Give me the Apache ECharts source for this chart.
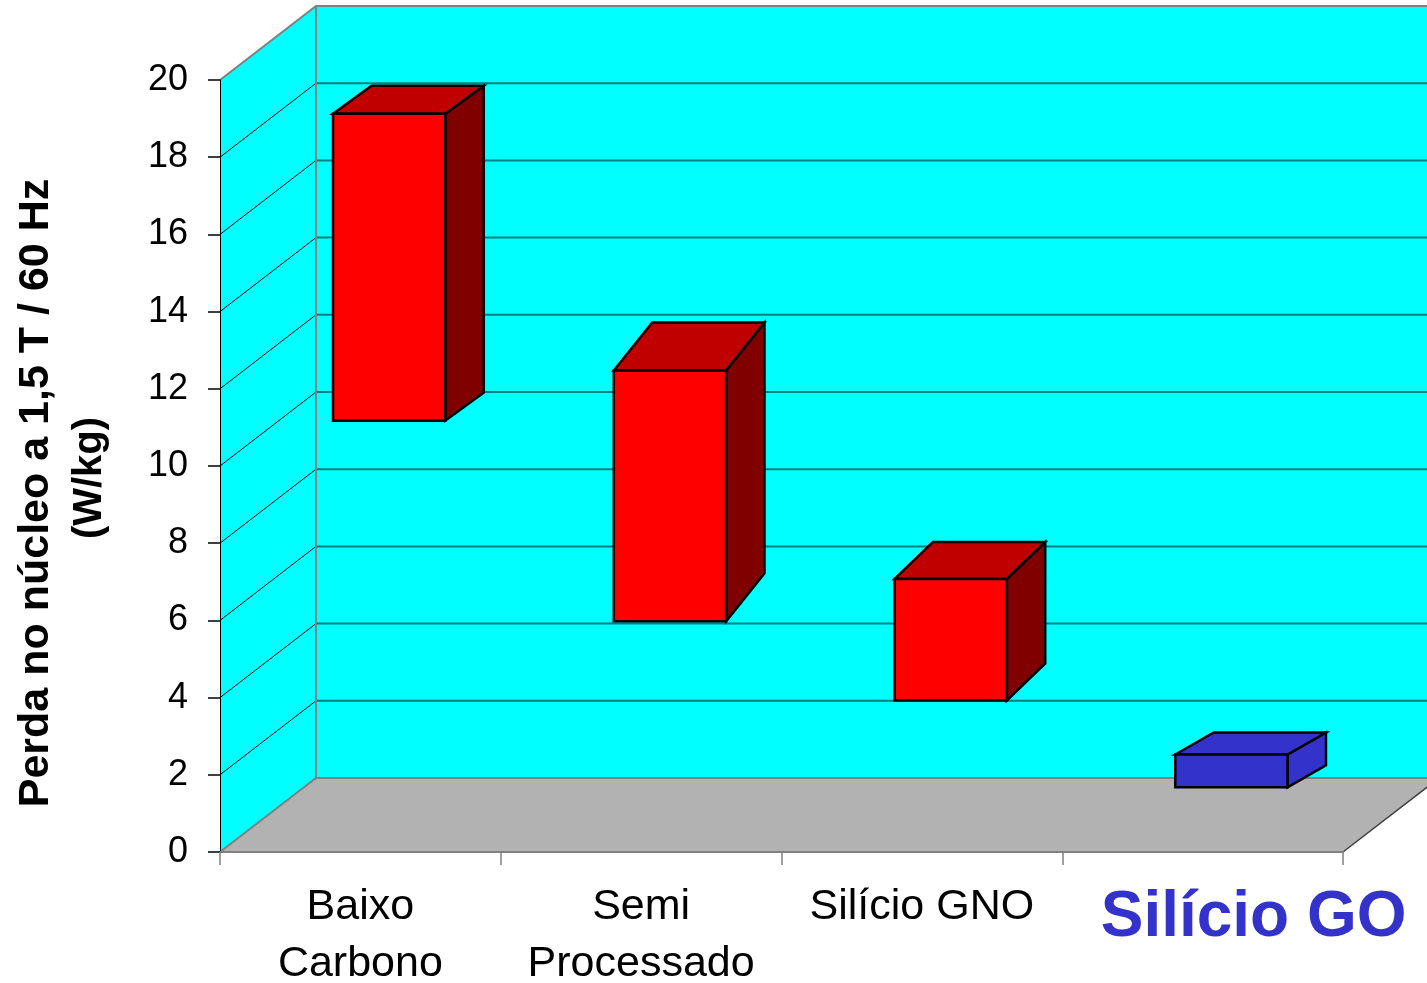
<!DOCTYPE html>
<html>
<head>
<meta charset="utf-8">
<title>Perda no núcleo</title>
<script src="https://cdn.jsdelivr.net/npm/echarts@6/dist/echarts.min.js"></script>
<style>
  html, body { margin: 0; padding: 0; background: #ffffff; }
  #chart { width: 1427px; height: 983px; }
</style>
</head>
<body>
<div id="chart"></div>
<script>
// ---- data ----
const categories = ['Baixo\nCarbono', 'Semi\nProcessado', 'Silício GNO', 'Silício GO'];
const lossLow = [10.6, 5.4, 3.35, 1.1];     // W/kg, lower end of each range
const lossHigh = [18.55, 11.9, 6.5, 1.95];  // W/kg, upper end of each range
const yTicks = [0, 2, 4, 6, 8, 10, 12, 14, 16, 18, 20];
const yTitle = 'Perda no núcleo a 1,5 T / 60 Hz';
const yUnit = '(W/kg)';

// ---- 3D look (pixels / fractions of the depth) ----
const DEPTH = { x: 96, y: 74 };   // oblique offset from front plane to back wall
const BAR_FRONT = 0.3;            // bar front face position in the depth
const BAR_DEPTH = 0.4;            // bar thickness in the depth
const BAR_TILT = [28, 48, 37, 22];// vertical rise of each box's receding edges
const HIGHLIGHT = 3;              // emphasised category
const FONT = "'Liberation Sans', Arial, Helvetica, sans-serif";

const COLORS = {
  wall: '#00FFFF',
  floor: '#B2B2B2',
  border: '#808080',
  grid: '#008080',
  red: { front: '#FF0000', top: '#C00000', side: '#800000' },
  blue: { front: '#3333CC', top: '#3333CC', side: '#3333CC' }
};

const chart = echarts.init(document.getElementById('chart'), null, { renderer: 'canvas' });

function renderWalls(params, api) {
  const cs = params.coordSys;
  const x0 = cs.x, x1 = cs.x + cs.width;
  const yb = api.coord([0, yTicks[0]])[1];
  const yt = api.coord([0, yTicks[yTicks.length - 1]])[1];
  const dx = DEPTH.x, dy = DEPTH.y;
  const children = [];
  // back wall
  children.push({ type: 'polygon', shape: { points: [[x0 + dx, yt - dy], [x1 + dx, yt - dy], [x1 + dx, yb - dy], [x0 + dx, yb - dy]] },
    style: { fill: COLORS.wall, stroke: null } });
  // side wall
  children.push({ type: 'polygon', shape: { points: [[x0, yb], [x0 + dx, yb - dy], [x0 + dx, yt - dy], [x0, yt]] },
    style: { fill: COLORS.wall, stroke: null } });
  // grid lines on both walls
  yTicks.slice(1, -1).forEach(function (v) {
    const y = api.coord([0, v])[1];
    children.push({ type: 'line', shape: { x1: x0, y1: y, x2: x0 + dx, y2: y - dy },
      style: { stroke: '#000000', lineWidth: 1 } });
    children.push({ type: 'line', shape: { x1: x0 + dx, y1: y - dy, x2: x1 + dx, y2: y - dy },
      style: { stroke: COLORS.grid, lineWidth: 2 } });
  });
  // floor
  children.push({ type: 'polygon', shape: { points: [[x0, yb], [x1, yb], [x1 + dx, yb - dy], [x0 + dx, yb - dy]] },
    style: { fill: COLORS.floor, stroke: null } });
  // wall borders
  children.push({ type: 'polyline', shape: { points: [[x0, yt], [x0 + dx, yt - dy], [x1 + dx + 20, yt - dy]] },
    style: { stroke: COLORS.border, lineWidth: 2, fill: null } });
  children.push({ type: 'line', shape: { x1: x0 + dx, y1: yt - dy, x2: x0 + dx, y2: yb - dy },
    style: { stroke: COLORS.border, lineWidth: 2 } });
  children.push({ type: 'polyline', shape: { points: [[x0, yb], [x0 + dx, yb - dy], [x1 + dx + 20, yb - dy]] },
    style: { stroke: COLORS.border, lineWidth: 2, fill: null } });
  children.push({ type: 'line', shape: { x1: x1, y1: yb, x2: x1 + dx, y2: yb - dy },
    style: { stroke: '#404040', lineWidth: 1.5 } });
  return { type: 'group', children: children };
}

function renderBox(params, api) {
  const i = api.value(0);
  const lo = api.value(1), hi = api.value(2);
  const band = api.size([1, 0])[0];
  const base = api.coord([i, lo]);
  const topY = api.coord([i, hi])[1];
  const fx = DEPTH.x * BAR_FRONT, fy = DEPTH.y * BAR_FRONT;
  const bx = DEPTH.x * BAR_DEPTH, by = BAR_TILT[i];
  const xL = base[0] - band * 0.2 + fx, xR = base[0] + band * 0.2 + fx;
  const yT = topY - fy, yB = base[1] - fy;
  const c = i === HIGHLIGHT ? COLORS.blue : COLORS.red;
  const edge = { stroke: '#000000', lineWidth: 2.5, lineJoin: 'miter' };
  return {
    type: 'group',
    children: [
      { type: 'polygon', shape: { points: [[xR, yT], [xR + bx, yT - by], [xR + bx, yB - by], [xR, yB]] },
        style: Object.assign({ fill: c.side }, edge) },
      { type: 'polygon', shape: { points: [[xL, yT], [xL + bx, yT - by], [xR + bx, yT - by], [xR, yT]] },
        style: Object.assign({ fill: c.top }, edge) },
      { type: 'polygon', shape: { points: [[xL, yT], [xR, yT], [xR, yB], [xL, yB]] },
        style: Object.assign({ fill: c.front }, edge) }
    ]
  };
}

const boxData = categories.map(function (_, i) { return [i, lossLow[i], lossHigh[i]]; });

chart.setOption({
  animation: false,
  backgroundColor: '#ffffff',
  grid: { left: 220, right: 84, top: 80, bottom: 131, containLabel: false, outerBoundsMode: 'none' },
  xAxis: {
    type: 'category',
    data: categories,
    boundaryGap: true,
    axisLine: { show: true, lineStyle: { color: COLORS.border, width: 2 } },
    axisTick: { show: true, interval: 0, length: 13, lineStyle: { color: COLORS.border, width: 1.5 } },
    axisLabel: {
      interval: 0,
      hideOverlap: false,
      margin: 27,
      color: '#000000',
      fontFamily: FONT,
      fontSize: 43,
      lineHeight: 57,
      formatter: function (value, index) {
        return index === HIGHLIGHT ? '{hi|' + value + '}' : value;
      },
      rich: {
        hi: { fontFamily: FONT, fontSize: 64, fontWeight: 'bold', color: '#3333CC', lineHeight: 78, padding: [0, 0, 0, 102] }
      }
    },
    splitLine: { show: false },
    z: 5
  },
  yAxis: {
    type: 'value',
    min: yTicks[0],
    max: yTicks[yTicks.length - 1],
    interval: yTicks[1] - yTicks[0],
    axisLine: { show: true, lineStyle: { color: '#000000', width: 1 } },
    axisTick: { show: true, length: 12, lineStyle: { color: '#000000', width: 1.5 } },
    axisLabel: { margin: 32, color: '#000000', fontFamily: FONT, fontSize: 36 },
    splitLine: { show: false },
    z: 5
  },
  graphic: [
    { type: 'text', x: 36, y: 493, rotation: Math.PI / 2, z: 10,
      style: { text: yTitle, fontFamily: FONT, fontSize: 43, fontWeight: 'bold', fill: '#000000', align: 'center', verticalAlign: 'middle' } },
    { type: 'text', x: 90, y: 478, rotation: Math.PI / 2, z: 10,
      style: { text: yUnit, fontFamily: FONT, fontSize: 40, fontWeight: 'bold', fill: '#000000', align: 'center', verticalAlign: 'middle' } }
  ],
  series: [
    { type: 'custom', name: 'walls', renderItem: renderWalls, data: [[0, 0]], silent: true, z: 1, clip: false },
    { type: 'custom', name: 'Perda', renderItem: renderBox, data: boxData,
      encode: { x: 0, y: [1, 2] }, z: 3, clip: false }
  ]
});
</script>
</body>
</html>
